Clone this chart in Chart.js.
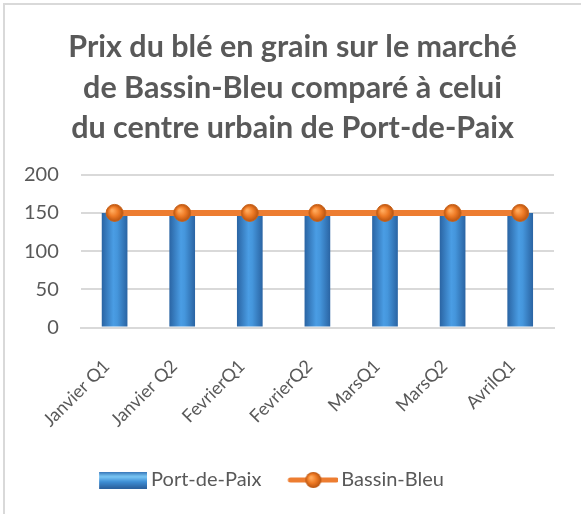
<!DOCTYPE html>
<html lang="fr">
<head>
<meta charset="utf-8">
<script src="https://cdn.jsdelivr.net/npm/chart.js@4/dist/chart.umd.min.js"></script>
<style>
  html, body { margin: 0; padding: 0; background: #fff; }
  #cadre { position: relative; width: 581px; height: 514px; overflow: hidden; }
  #bord { position: absolute; left: 3px; top: 3px; width: 700px; height: 700px; border-left: 2px solid #d9d9d9; border-top: 2px solid #d9d9d9; }
  canvas { position: absolute; left: 0; top: 0; }
</style>
</head>
<body>
<div id="cadre">
  <div id="bord"></div>
  <canvas id="graphique" width="581" height="514"></canvas>
</div>
<script>
// Données
const periodes = ["Janvier Q1", "Janvier Q2", "FevrierQ1", "FevrierQ2", "MarsQ1", "MarsQ2", "AvrilQ1"];
const portDePaix = [150, 150, 150, 150, 150, 150, 150];
const bassinBleu = [150, 150, 150, 150, 150, 150, 150];
const ticksY = [0, 50, 100, 150, 200];

const gris = "#595959";
const police = "Lato";

// Dégradé "cylindre" pour les barres
function degradeBarre(ctx, x0, x1) {
  const g = ctx.createLinearGradient(x0, 0, x1, 0);
  g.addColorStop(0, "#2a64a3");
  g.addColorStop(0.45, "#4a9de4");
  g.addColorStop(0.6, "#4596dc");
  g.addColorStop(1, "#2a64a3");
  return g;
}

function degradePoint(ctx, x, y, r) {
  const g = ctx.createRadialGradient(x - r * 0.3, y - r * 0.3, 1, x, y, r);
  g.addColorStop(0, "#ffa85a");
  g.addColorStop(0.5, "#ee7a25");
  g.addColorStop(1, "#b8530f");
  return g;
}

// Images de légende (marge transparente à gauche = espacement entre items)
const marge = 15;

function imageBarre() {
  const c = document.createElement("canvas");
  c.width = 48 + marge; c.height = 17;
  const ctx = c.getContext("2d");
  const g = ctx.createLinearGradient(0, 0, 0, 17);
  g.addColorStop(0, "#2f6eb3");
  g.addColorStop(0.3, "#7cc8f5");
  g.addColorStop(0.6, "#3f8fd6");
  g.addColorStop(1, "#2a5f9c");
  ctx.fillStyle = g;
  ctx.fillRect(marge, 0, 48, 17);
  return c;
}

function imageLigne() {
  const c = document.createElement("canvas");
  c.width = 50 + marge; c.height = 20;
  const ctx = c.getContext("2d");
  ctx.strokeStyle = "#ed7d31";
  ctx.lineWidth = 5;
  ctx.lineCap = "round";
  ctx.beginPath(); ctx.moveTo(marge + 2, 10); ctx.lineTo(marge + 48, 10); ctx.stroke();
  ctx.fillStyle = degradePoint(ctx, marge + 25, 10, 8);
  ctx.beginPath(); ctx.arc(marge + 25, 10, 8, 0, Math.PI * 2); ctx.fill();
  return c;
}

const legendeImages = [imageBarre(), imageLigne()];

// Titre centré sur toute la largeur du cadre, légende un peu à gauche
const recentrage = {
  id: "recentrage",
  afterLayout(chart) {
    if (chart.titleBlock) {
      chart.titleBlock.left = 4;
      chart.titleBlock.right = 581;
    }
    if (chart.legend) {
      chart.legend.left -= 11;
      chart.legend.right -= 11;
    }
  }
};

new Chart(document.getElementById("graphique"), {
  plugins: [recentrage],
  data: {
    labels: periodes,
    datasets: [
      {
        type: "line",
        label: "Bassin-Bleu",
        data: bassinBleu,
        borderColor: "#ed7d31",
        borderWidth: 6,
        pointRadius: 8.5,
        pointHoverRadius: 8.5,
        pointBorderWidth: 1,
        pointBorderColor: "#c9641c",
        pointBackgroundColor: function(c) {
          const s = c.chart.scales;
          if (!s.x || !s.y) return "#ed7d31";
          const x = s.x.getPixelForValue(c.dataIndex);
          const y = s.y.getPixelForValue(c.raw);
          if (!isFinite(x) || !isFinite(y)) return "#ed7d31";
          return degradePoint(c.chart.ctx, x, y, 8.5);
        },
        order: 0
      },
      {
        type: "bar",
        label: "Port-de-Paix",
        data: portDePaix,
        barPercentage: 0.38,
        categoryPercentage: 1,
        backgroundColor: function(c) {
          const x = c.chart.scales.x;
          if (!x) return "#3a86d0";
          const centre = x.getPixelForValue(c.dataIndex);
          const demi = (x.width / periodes.length) * 0.38 / 2;
          if (!isFinite(centre) || !isFinite(demi)) return "#3a86d0";
          return degradeBarre(c.chart.ctx, centre - demi, centre + demi);
        },
        order: 1
      }
    ]
  },
  options: {
    responsive: false,
    animation: false,
    layout: { padding: { left: 2, right: 27, top: 12, bottom: 14 } },
    plugins: {
      title: {
        display: true,
        text: ["Prix du blé en grain sur le marché", "de Bassin-Bleu comparé à celui", "du centre urbain de Port-de-Paix"],
        color: gris,
        font: { family: police, size: 30.5, weight: "bold", lineHeight: 1.33 },
        padding: { top: 15, bottom: 26 }
      },
      legend: {
        position: "bottom",
        labels: {
          usePointStyle: true,
          pointStyleWidth: 36 + marge,
          boxHeight: 18,
          color: gris,
          font: { family: police, size: 20 },
          padding: 19,
          generateLabels: function(chart) {
            return [
              { text: "Port-de-Paix", pointStyle: legendeImages[0], fontColor: gris, datasetIndex: 1, lineWidth: 0, strokeStyle: "transparent" },
              { text: "Bassin-Bleu", pointStyle: legendeImages[1], fontColor: gris, datasetIndex: 0, lineWidth: 0, strokeStyle: "transparent" }
            ];
          }
        }
      },
      tooltip: { enabled: false }
    },
    scales: {
      x: {
        grid: { display: false },
        border: { color: "#d9d9d9", width: 2 },
        ticks: {
          color: gris,
          font: { family: police, size: 18 },
          maxRotation: 45,
          minRotation: 45,
          padding: 20,
          labelOffset: -8
        }
      },
      y: {
        min: 0,
        max: 200,
        afterBuildTicks: function(axis) { axis.ticks = ticksY.map(v => ({ value: v })); },
        grid: { color: "#d9d9d9", lineWidth: 2, drawTicks: false },
        border: { display: false },
        ticks: {
          color: gris,
          font: { family: police, size: 20 },
          padding: 22
        }
      }
    }
  }
});
</script>
</body>
</html>
